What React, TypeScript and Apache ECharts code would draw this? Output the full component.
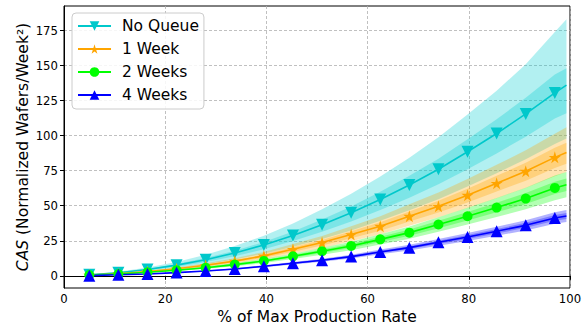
import React, { useEffect, useRef } from "react";
import * as echarts from "echarts";

// x positions (% of max production rate); the last point carries the line end without a marker
const xs = [5, 10.75, 16.5, 22.25, 28, 33.75, 39.5, 45.25, 51, 56.75, 62.5, 68.25, 74, 79.75, 85.5, 91.25, 97, 99.3];

const seriesNames = ["No Queue", "1 Week", "2 Weeks", "4 Weeks"];

// central lines
const noQueue = [0.8, 2.2, 4.5, 7.6, 11.5, 16.3, 22, 28.8, 36.5, 45, 54.5, 64.8, 76, 88.5, 101.5, 115.5, 130.5, 136];
const week1 = [0.5, 1.5, 3, 5, 7.5, 10.5, 14.2, 18.9, 23.7, 29.4, 35.4, 42.5, 49.6, 57.5, 66, 74.6, 84.5, 88];
const week2 = [0.5, 1.3, 2.5, 4, 5.8, 8, 10.6, 13.9, 17.5, 21.3, 26, 30.8, 36.6, 42.5, 48.7, 55.1, 62.7, 65];
const week4 = [0.1, 0.8, 1.3, 2.3, 3.4, 4.9, 6.8, 9, 11.1, 13.7, 17, 20.1, 23.9, 27.7, 31.8, 36, 41.3, 42.7];

// outer / inner bands
const noQueueOuterHi = [1.0, 2.9, 5.9, 9.9, 15, 21.2, 28.6, 37.4, 47.5, 58.5, 70.9, 84.2, 98.8, 115, 132, 151, 174, 183];
const noQueueOuterLo = [0.6, 1.6, 3.2, 5.5, 8.3, 11.7, 15.8, 20.7, 26.3, 32.4, 39.2, 46.7, 54.7, 63.7, 73.1, 83.2, 94, 98];
const noQueueInnerHi = [0.9, 2.4, 5, 8.4, 12.7, 17.9, 24.2, 31.7, 40.2, 49.5, 60, 71.3, 83.6, 97.4, 111.7, 127, 143.6, 148];
const noQueueInnerLo = [0.7, 1.9, 3.9, 6.5, 9.9, 14, 18.9, 24.8, 31.4, 38.7, 46.9, 55.7, 65.4, 76.1, 87.3, 99.3, 112.2, 116];

const week1OuterHi = [0.6, 1.8, 3.6, 6, 9, 12.6, 17, 22.7, 28.4, 35.3, 42.5, 51, 59.5, 69, 79.2, 89.5, 101.4, 106];
const week1OuterLo = [0.4, 1.3, 2.5, 4.2, 6.3, 8.8, 11.9, 15.9, 19.9, 24.7, 29.7, 35.7, 41.7, 48.3, 55.4, 62.7, 71, 74];
const week1InnerHi = [0.5, 1.6, 3.2, 5.4, 8.1, 11.3, 15.3, 20.4, 25.6, 31.8, 38.2, 45.9, 53.6, 62.1, 71.3, 80.6, 91.3, 95];
const week1InnerLo = [0.5, 1.4, 2.7, 4.6, 6.8, 9.6, 12.9, 17.2, 21.6, 26.8, 32.2, 38.7, 45.1, 52.3, 60.1, 67.9, 76.9, 80];

const week2OuterHi = [0.6, 1.5, 2.9, 4.6, 6.6, 9.1, 12.1, 15.8, 20, 24.3, 29.6, 35.1, 41.7, 48.5, 55.5, 62.8, 71.5, 74];
const week2OuterLo = [0.4, 1.1, 2.2, 3.4, 5, 6.9, 9.1, 12, 15, 18.3, 22.4, 26.5, 31.5, 36.6, 41.9, 47.4, 53.9, 56];
const week2InnerHi = [0.5, 1.4, 2.7, 4.3, 6.2, 8.6, 11.3, 14.9, 18.7, 22.8, 27.8, 33, 39.2, 45.5, 52.1, 59, 67.1, 69.5];
const week2InnerLo = [0.5, 1.2, 2.3, 3.7, 5.4, 7.4, 9.9, 12.9, 16.3, 19.8, 24.2, 28.6, 34, 39.5, 45.3, 51.2, 58.3, 60.5];

const week4OuterHi = [0.1, 0.9, 1.4, 2.5, 3.7, 5.4, 7.5, 9.9, 12.2, 15.1, 18.7, 22.1, 26.3, 30.5, 35, 39.6, 45.4, 47];
const week4OuterLo = [0.1, 0.7, 1.2, 2.1, 3.1, 4.4, 6.1, 8.1, 10, 12.3, 15.3, 18.1, 21.5, 24.9, 28.6, 32.4, 37.2, 38.4];
const week4InnerHi = [0.1, 0.8, 1.4, 2.4, 3.6, 5.1, 7.1, 9.5, 11.7, 14.4, 17.9, 21.1, 25.1, 29.1, 33.4, 37.8, 43.4, 44.8];
const week4InnerLo = [0.1, 0.8, 1.2, 2.2, 3.2, 4.7, 6.5, 8.6, 10.5, 13, 16.2, 19.1, 22.7, 26.3, 30.2, 34.2, 39.2, 40.6];

const xTicks = [0, 20, 40, 60, 80, 100];
const yTicks = [0, 25, 50, 75, 100, 125, 150, 175];

const STAR = "path://M50,0 L61,35 L98,35 L68,57 L79,91 L50,70 L21,91 L32,57 L2,35 L39,35 Z";
const FONT = "DejaVu Sans";

export default function App() {
  const ref = useRef<HTMLDivElement>(null);

  useEffect(() => {
    if (!ref.current) return;
    const chart = echarts.init(ref.current, null, { renderer: "svg" });

    const bandSeries = (lo: number[], hi: number[], color: string, z: number) => ({
      type: "custom",
      z,
      silent: true,
      data: [[xs[0], lo[0]]],
      encode: { x: 0, y: 1 },
      renderItem: (_params: any, api: any) => {
        const pts: number[][] = [];
        for (let i = 0; i < xs.length; i++) pts.push(api.coord([xs[i], hi[i]]));
        for (let i = xs.length - 1; i >= 0; i--) pts.push(api.coord([xs[i], lo[i]]));
        return { type: "polygon", shape: { points: pts }, style: { fill: color } };
      },
    });

    const lineSeries = (name: string, vals: number[], color: string, symbol: string, size: number, rotate = 0) => ({
      type: "line",
      name,
      z: 5,
      symbol,
      symbolSize: size,
      symbolRotate: rotate,
      showAllSymbol: true,
      lineStyle: { color, width: 1.6 },
      itemStyle: { color, borderWidth: 0 },
      data: xs.map((x, i) =>
        i === xs.length - 1 ? { value: [x, vals[i]], symbol: "none" } : [x, vals[i]]
      ),
    });

    const cyan = "#00C8CB";
    const cyanA = "rgba(0,206,209,0.3)";
    const orange = "#FFA500";
    const orangeA = "rgba(255,165,0,0.3)";
    const green = "#00FF00";
    const greenA = "rgba(0,255,0,0.3)";
    const blue = "#0000FF";
    const blueA = "rgba(0,0,255,0.3)";

    chart.setOption({
      animation: false,
      textStyle: { fontFamily: FONT },
      grid: {
        left: 64,
        right: 15,
        top: 6,
        bottom: 36,
        show: true,
        borderColor: "#000",
        borderWidth: 1,
        backgroundColor: "transparent",
        outerBoundsMode: "none",
        containLabel: false,
      },
      legend: {
        data: seriesNames,
        orient: "vertical",
        left: 72,
        top: 13,
        padding: [4, 5, 5, 5],
        itemWidth: 33,
        itemHeight: 12,
        itemGap: 5,
        backgroundColor: "rgba(255,255,255,0.85)",
        borderColor: "#cccccc",
        borderWidth: 1,
        borderRadius: 4,
        textStyle: { fontFamily: FONT, fontSize: 15.5, color: "#000", lineHeight: 18, padding: [0, 0, 0, 6] },
      },
      xAxis: {
        type: "value",
        min: 0,
        max: 100,
        interval: 20,
        name: "% of Max Production Rate",
        nameLocation: "middle",
        nameGap: 20,
        nameMoveOverlap: false,
        nameTextStyle: { fontFamily: FONT, fontSize: 15.5, color: "#000", lineHeight: 17 },
        axisLine: { lineStyle: { color: "#000", width: 1 } },
        axisTick: { show: true, inside: false, length: 4, lineStyle: { color: "#000" }, customValues: xTicks },
        axisLabel: { fontFamily: FONT, fontSize: 11.7, color: "#000", margin: 5, customValues: xTicks },
        splitLine: { show: true, lineStyle: { color: "#b0b0b0", type: [3, 2], width: 0.8 } },
      },
      yAxis: {
        type: "value",
        min: -8.7,
        max: 192.5,
        name: "{i|CAS} (Normalized Wafers/Week²)",
        nameLocation: "middle",
        nameGap: 33,
        nameMoveOverlap: false,
        nameTextStyle: {
          fontFamily: FONT,
          fontSize: 15.5,
          color: "#000",
          rich: { i: { fontStyle: "italic", fontFamily: "DejaVu Sans", fontSize: 15.5, color: "#000" } },
        },
        axisLine: { show: true, lineStyle: { color: "#000", width: 1 } },
        axisTick: { show: true, inside: false, length: 4, lineStyle: { color: "#000" }, customValues: yTicks },
        axisLabel: { fontFamily: FONT, fontSize: 11.7, color: "#000", margin: 6, customValues: yTicks },
        splitLine: { show: true, lineStyle: { color: "#b0b0b0", type: [3, 2], width: 0.8 } },
      },
      series: [
        bandSeries(noQueueOuterLo, noQueueOuterHi, cyanA, 1),
        bandSeries(noQueueInnerLo, noQueueInnerHi, cyanA, 1),
        bandSeries(week1OuterLo, week1OuterHi, orangeA, 1),
        bandSeries(week1InnerLo, week1InnerHi, orangeA, 1),
        bandSeries(week2OuterLo, week2OuterHi, greenA, 1),
        bandSeries(week2InnerLo, week2InnerHi, greenA, 1),
        bandSeries(week4OuterLo, week4OuterHi, blueA, 1),
        bandSeries(week4InnerLo, week4InnerHi, blueA, 1),
        lineSeries(seriesNames[0], noQueue, cyan, "triangle", 12, 180),
        lineSeries(seriesNames[1], week1, orange, STAR, 12),
        lineSeries(seriesNames[2], week2, green, "circle", 10),
        lineSeries(seriesNames[3], week4, blue, "triangle", 12),
      ],
    });

    return () => chart.dispose();
  }, []);

  return (
    <div
      ref={ref}
      style={{ position: "fixed", left: 0, top: 0, width: 585, height: 324, background: "#fff" }}
    />
  );
}
